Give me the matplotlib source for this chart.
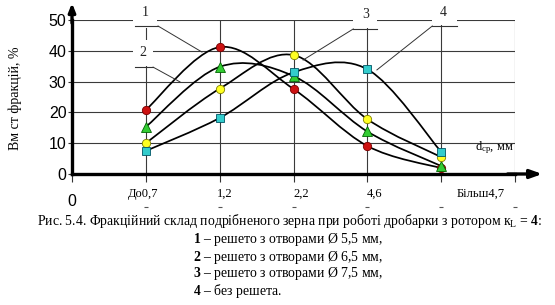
import numpy as np
import matplotlib
matplotlib.use("Agg")
import matplotlib.pyplot as plt
from matplotlib.path import Path
from matplotlib.patches import PathPatch, Rectangle

plt.rcParams['mathtext.fontset'] = 'custom'
plt.rcParams['mathtext.rm'] = 'Liberation Serif'
plt.rcParams['mathtext.it'] = 'Liberation Serif:italic'
plt.rcParams['mathtext.bf'] = 'Liberation Serif:bold'

categories = ["До0,7", "1,2", "2,2", "4,6", "Більш4,7"]
sieve1 = [20.8, 41.2, 27.6, 9.1, 1.9]    # 1 - решето 5,5 мм
sieve2 = [15.3, 34.8, 31.8, 13.8, 2.6]   # 2 - решето 6,5 мм
sieve3 = [10.0, 27.7, 38.6, 17.8, 5.5]   # 3 - решето 7,5 мм
nosieve = [7.5, 18.2, 33.0, 34.0, 7.2]   # 4 - без решета

serif = 'Liberation Serif'
sans = 'Liberation Sans'


def smooth_path(xs, ys):
    # excel-like smoothed line: cubic bezier through the points
    xs = np.asarray(xs, float)
    ys = np.asarray(ys, float)
    n = len(xs)
    verts = [(xs[0], ys[0])]
    codes = [Path.MOVETO]
    for i in range(n - 1):
        i0 = max(i - 1, 0)
        i3 = min(i + 2, n - 1)
        c1 = (xs[i] + (xs[i + 1] - xs[i0]) / 6, ys[i] + (ys[i + 1] - ys[i0]) / 6)
        c2 = (xs[i + 1] - (xs[i3] - xs[i]) / 6, ys[i + 1] - (ys[i3] - ys[i]) / 6)
        verts += [c1, c2, (xs[i + 1], ys[i + 1])]
        codes += [Path.CURVE4] * 3
    return Path(verts, codes)


fig = plt.figure(figsize=(5.55, 3.05), dpi=100)
ax = fig.add_axes([72/555, 131/305, 443/555, 154/305])

x = np.arange(1, len(categories) + 1)
ax.set_xlim(0, 6)
ax.set_ylim(0, 50)
ax.set_xticks(np.arange(0, 7))
ax.set_xticklabels([])
ax.set_yticks(np.arange(0, 51, 10))
ax.set_yticklabels([str(v) for v in range(0, 51, 10)], fontfamily=sans, fontsize=11.5)
ax.tick_params(axis='x', direction='out', length=5.5, width=0.8, color='#333333')
ax.tick_params(axis='y', direction='out', length=3, width=0.8, color='#333333', pad=1)
ax.grid(True, color='#3a3a3a', linewidth=0.8)
ax.set_axisbelow(True)
for s in ['top', 'right']:
    ax.spines[s].set_visible(False)
ax.spines['left'].set_linewidth(2.4)
ax.spines['bottom'].set_linewidth(2.4)

# axis arrows
ax.annotate('', xy=(0, 55.5), xytext=(0, 49), annotation_clip=False,
            arrowprops=dict(arrowstyle='-|>,head_length=0.5,head_width=0.2', lw=2.4, color='black',
                            shrinkA=0, shrinkB=0))
ax.annotate('', xy=(6.37, 0), xytext=(5.9, 0), annotation_clip=False,
            arrowprops=dict(arrowstyle='-|>,head_length=0.7,head_width=0.25', lw=2.4, color='black',
                            shrinkA=0, shrinkB=0))

# category labels
offsets = [-0.03, 0.07, 0.1, 0.1, 0.54]
for xi, lab, off in zip(x, categories, offsets):
    ax.text(xi + off, -6.4, lab, ha='center', va='center', fontfamily=serif, fontsize=9)
ax.text(0, -9, "0", ha='center', va='center', fontfamily=sans, fontsize=11.5)
ax.plot(np.arange(1, 7), [-10.8] * 6, ls='none', marker='_', ms=3, mew=0.8, color='#555555', clip_on=False)

# curves
for ys in [sieve1, sieve2, sieve3, nosieve]:
    ax.add_patch(PathPatch(smooth_path(x, ys), facecolor='none', edgecolor='black', lw=1.25, zorder=3))

ax.plot(x, sieve1, ls='none', marker='o', ms=6, mfc='#CC1111', mec='#7a0000', mew=0.6, zorder=4)
ax.plot(x, sieve2, ls='none', marker='^', ms=6.5, mfc='#33CC33', mec='#006600', mew=0.6, zorder=4)
ax.plot(x, sieve3, ls='none', marker='o', ms=6, mfc='#FFFF22', mec='#808000', mew=0.6, zorder=4)
ax.plot(x, nosieve, ls='none', marker='s', ms=6, mfc='#33CCCC', mec='#005566', mew=0.6, zorder=4)

# curve callouts
callouts = [
    ("1", 0.99, 52.3, (0.827, 1.152), 47.4, 56.0, (0.854, 1.165, 48.05), (1.165, 48.05, 1.76, 39.6)),
    ("2", 0.96, 39.3, (0.827, 1.098), 35.0, 43.5, (0.854, 1.098, 34.7), (1.098, 34.7, 1.463, 29.9)),
    ("3", 3.98, 51.9, (3.81, 4.13), 47.4, 56.0, (3.81, 4.13, 47.1), (3.81, 47.1, 3.13, 37.0)),
    ("4", 5.03, 52.3, (4.88, 5.22), 48.4, 56.0, (4.88, 5.22, 48.05), (4.88, 48.05, 4.13, 33.8)),
]
for lab, tx, ty, (bx0, bx1), by0, by1, (ux0, ux1, uy), (lx0, ly0, lx1, ly1) in callouts:
    ax.add_patch(Rectangle((bx0, by0), bx1 - bx0, by1 - by0, facecolor='white', edgecolor='none',
                           zorder=2, clip_on=False))
    ax.text(tx, ty, lab, ha='center', va='center', fontfamily=serif, fontsize=10, color='#222222',
            zorder=5, clip_on=False)
    ax.plot([ux0, ux1], [uy, uy], color='#333333', lw=0.8, zorder=5, clip_on=False)
    ax.plot([lx0, lx1], [ly0, ly1], color='#333333', lw=0.7, zorder=5, clip_on=False)

ax.text(5.46, 8.6, r'd$_\mathrm{ср}$, мм', ha='left', va='center', fontfamily=serif, fontsize=9, zorder=5)

fig.text(15/555, 1 - 98/305, "Вм ст фракцій, %", rotation=90, ha='center', va='center',
         fontfamily=serif, fontsize=10)

# caption
fig.text(290/555, 1 - 221/305,
         r"Рис. 5.4. Фракційний склад подрібненого зерна при роботі дробарки з ротором к$_\mathrm{L}$ = $\mathbf{4}$:",
         ha='center', va='center', fontfamily=serif, fontsize=9.9)
lines = [r"$\mathbf{1}$ – решето з отворами Ø 5,5 мм,",
         r"$\mathbf{2}$ – решето з отворами Ø 6,5 мм,",
         r"$\mathbf{3}$ – решето з отворами Ø 7,5 мм,",
         r"$\mathbf{4}$ – без решета."]
for yy, txt in zip([239, 257, 274, 291], lines):
    fig.text(193/555, 1 - yy/305, txt, ha='left', va='center', fontfamily=serif, fontsize=9.9)

fig.savefig("out.png", dpi=100)
